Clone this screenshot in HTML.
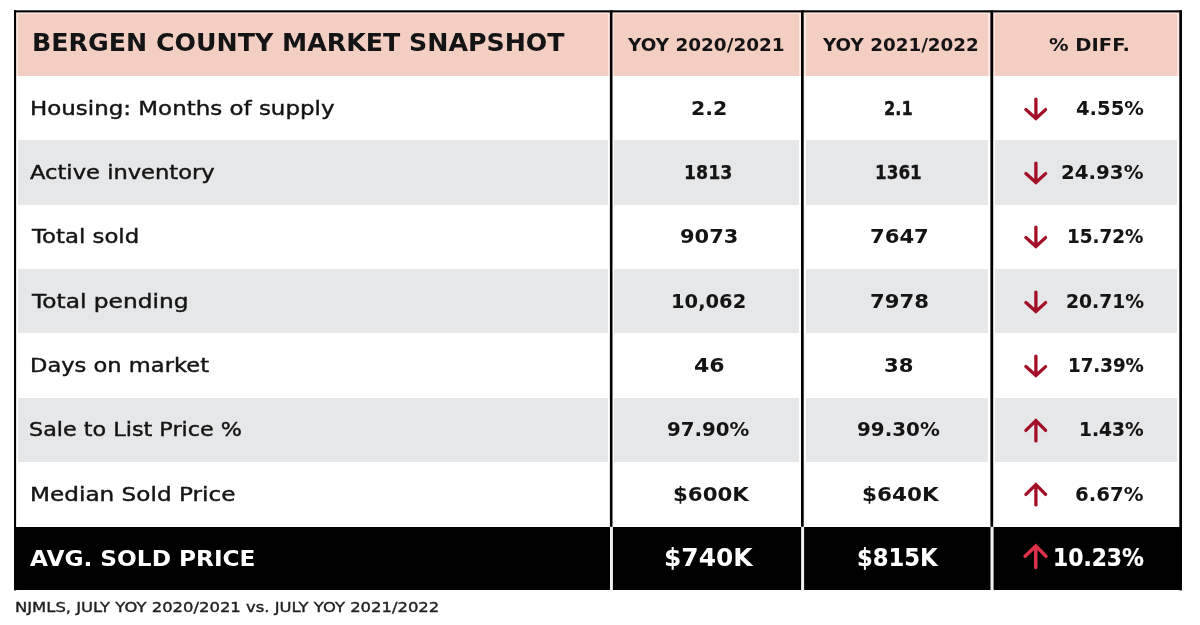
<!DOCTYPE html>
<html lang="en">
<head>
<meta charset="utf-8">
<title>Bergen County Market Snapshot</title>
<style>
html,body{margin:0;padding:0;background:#fff}
body{width:1200px;height:625px;position:relative;overflow:hidden;font-family:'DejaVu Sans','Liberation Sans',sans-serif;color:#141414}
.sheet{position:absolute;left:0;top:0;width:1200px;height:625px}
.row,.cell,.t,.ln,.arw{position:absolute}
.row{left:0;width:1200px}
.cell{top:0;height:100%}
.t{white-space:nowrap;transform-origin:0 50%;font-weight:700;letter-spacing:0;filter:blur(.55px)}
.lbl{font-weight:400;-webkit-text-stroke:.42px currentColor}
.fn{font-weight:400;-webkit-text-stroke:.4px currentColor}
.arw{filter:blur(.55px)}
.hbg{position:absolute;background:#fce6df}
.hdr .cell{background:#f3cec3}
.alt .cell{background:#e6e7e9}
.total{background:#000}
.total .t{color:#fff}
.fn{color:#222}
.grid{position:absolute;left:0;top:0;filter:blur(.45px)}
</style>
</head>
<body>
<div class="sheet">
<div class="hbg" style="left:15.00px;top:11.30px;width:1166.00px;height:64.70px"></div>
<div class="row hdr" style="top:14.20px;height:61.80px">
 <div class="cell c1" style="left:18.00px;width:590.00px">
  <span class="t title" style="left:14.35px;top:14.52px;font-size:24.11px;line-height:29px;transform:scaleX(1.0483)">BERGEN COUNTY MARKET SNAPSHOT</span>
 </div>
 <div class="cell c2" style="left:614.30px;width:184.70px">
  <span class="t ch" style="left:14.13px;top:19.77px;font-size:18.22px;line-height:22px;transform:scaleX(1.0117)">YOY 2020/2021</span>
 </div>
 <div class="cell c3" style="left:805.60px;width:182.40px">
  <span class="t ch" style="left:17.04px;top:19.77px;font-size:18.22px;line-height:22px;transform:scaleX(1.0062)">YOY 2021/2022</span>
 </div>
 <div class="cell c4" style="left:995.20px;width:182.00px">
  <span class="t ch" style="left:53.85px;top:19.77px;font-size:18.22px;line-height:22px;transform:scaleX(1.0722)">% DIFF.</span>
 </div>
</div>
<div class="row r1" style="top:76.00px;height:64.36px">
 <div class="cell c1" style="left:18.00px;width:590.00px">
  <span class="t lbl" style="left:12.25px;top:20.58px;font-size:19.86px;line-height:24px;transform:scaleX(1.1555)">Housing: Months of supply</span>
 </div>
 <div class="cell c2" style="left:614.30px;width:184.70px">
  <span class="t num" style="left:77.03px;top:20.58px;font-size:19.86px;line-height:24px;transform:scaleX(1.0319)">2.2</span>
 </div>
 <div class="cell c3" style="left:805.60px;width:182.40px">
  <span class="t num" style="left:78.50px;top:20.58px;font-size:19.86px;line-height:24px;transform:scaleX(0.8147);-webkit-text-stroke:0.37px currentColor">2.1</span>
 </div>
 <div class="cell c4" style="left:995.20px;width:182.00px">
  <span class="t num" style="left:81.24px;top:20.58px;font-size:19.86px;line-height:24px;transform:scaleX(0.9856)">4.55%</span>
  <svg class="arw" width="28.00" height="30.00" viewBox="0 0 28 30" style="left:26.50px;top:17.73px"><path d="M13.9 5.05V23.5M3.9 15.6L13.9 24.5L23.6 15.6" fill="none" stroke="#a20e25" stroke-width="3.3" stroke-linecap="round" stroke-linejoin="miter"/></svg>
 </div>
</div>
<div class="row r2 alt" style="top:140.36px;height:64.36px">
 <div class="cell c1" style="left:18.00px;width:590.00px">
  <span class="t lbl" style="left:11.65px;top:20.58px;font-size:19.86px;line-height:24px;transform:scaleX(1.1385)">Active inventory</span>
 </div>
 <div class="cell c2" style="left:614.30px;width:184.70px">
  <span class="t num" style="left:69.87px;top:20.58px;font-size:19.86px;line-height:24px;transform:scaleX(0.8734);-webkit-text-stroke:0.25px currentColor">1813</span>
 </div>
 <div class="cell c3" style="left:805.60px;width:182.40px">
  <span class="t num" style="left:69.53px;top:20.58px;font-size:19.86px;line-height:24px;transform:scaleX(0.8462);-webkit-text-stroke:0.31px currentColor">1361</span>
 </div>
 <div class="cell c4" style="left:995.20px;width:182.00px">
  <span class="t num" style="left:65.43px;top:20.58px;font-size:19.86px;line-height:24px;transform:scaleX(0.9970)">24.93%</span>
  <svg class="arw" width="28.00" height="30.00" viewBox="0 0 28 30" style="left:26.50px;top:17.73px"><path d="M13.9 5.05V23.5M3.9 15.6L13.9 24.5L23.6 15.6" fill="none" stroke="#a20e25" stroke-width="3.3" stroke-linecap="round" stroke-linejoin="miter"/></svg>
 </div>
</div>
<div class="row r3" style="top:204.72px;height:64.36px">
 <div class="cell c1" style="left:18.00px;width:590.00px">
  <span class="t lbl" style="left:13.98px;top:20.58px;font-size:19.86px;line-height:24px;transform:scaleX(1.1487)">Total sold</span>
 </div>
 <div class="cell c2" style="left:614.30px;width:184.70px">
  <span class="t num" style="left:65.35px;top:20.58px;font-size:19.86px;line-height:24px;transform:scaleX(1.0548)">9073</span>
 </div>
 <div class="cell c3" style="left:805.60px;width:182.40px">
  <span class="t num" style="left:63.94px;top:20.58px;font-size:19.86px;line-height:24px;transform:scaleX(1.0637)">7647</span>
 </div>
 <div class="cell c4" style="left:995.20px;width:182.00px">
  <span class="t num" style="left:71.85px;top:20.58px;font-size:19.86px;line-height:24px;transform:scaleX(0.9250);-webkit-text-stroke:0.15px currentColor">15.72%</span>
  <svg class="arw" width="28.00" height="30.00" viewBox="0 0 28 30" style="left:26.50px;top:17.73px"><path d="M13.9 5.05V23.5M3.9 15.6L13.9 24.5L23.6 15.6" fill="none" stroke="#a20e25" stroke-width="3.3" stroke-linecap="round" stroke-linejoin="miter"/></svg>
 </div>
</div>
<div class="row r4 alt" style="top:269.08px;height:64.36px">
 <div class="cell c1" style="left:18.00px;width:590.00px">
  <span class="t lbl" style="left:14.00px;top:20.58px;font-size:19.86px;line-height:24px;transform:scaleX(1.1728)">Total pending</span>
 </div>
 <div class="cell c2" style="left:614.30px;width:184.70px">
  <span class="t num" style="left:57.16px;top:20.58px;font-size:19.86px;line-height:24px;transform:scaleX(0.9817)">10,062</span>
 </div>
 <div class="cell c3" style="left:805.60px;width:182.40px">
  <span class="t num" style="left:63.91px;top:20.58px;font-size:19.86px;line-height:24px;transform:scaleX(1.0665)">7978</span>
 </div>
 <div class="cell c4" style="left:995.20px;width:182.00px">
  <span class="t num" style="left:71.12px;top:20.58px;font-size:19.86px;line-height:24px;transform:scaleX(0.9433);-webkit-text-stroke:0.11px currentColor">20.71%</span>
  <svg class="arw" width="28.00" height="30.00" viewBox="0 0 28 30" style="left:26.50px;top:17.73px"><path d="M13.9 5.05V23.5M3.9 15.6L13.9 24.5L23.6 15.6" fill="none" stroke="#a20e25" stroke-width="3.3" stroke-linecap="round" stroke-linejoin="miter"/></svg>
 </div>
</div>
<div class="row r5" style="top:333.44px;height:64.36px">
 <div class="cell c1" style="left:18.00px;width:590.00px">
  <span class="t lbl" style="left:11.72px;top:20.58px;font-size:19.86px;line-height:24px;transform:scaleX(1.1372)">Days on market</span>
 </div>
 <div class="cell c2" style="left:614.30px;width:184.70px">
  <span class="t num" style="left:79.85px;top:20.58px;font-size:19.86px;line-height:24px;transform:scaleX(1.1098)">46</span>
 </div>
 <div class="cell c3" style="left:805.60px;width:182.40px">
  <span class="t num" style="left:77.94px;top:20.58px;font-size:19.86px;line-height:24px;transform:scaleX(1.0653)">38</span>
 </div>
 <div class="cell c4" style="left:995.20px;width:182.00px">
  <span class="t num" style="left:72.71px;top:20.58px;font-size:19.86px;line-height:24px;transform:scaleX(0.9166);-webkit-text-stroke:0.17px currentColor">17.39%</span>
  <svg class="arw" width="28.00" height="30.00" viewBox="0 0 28 30" style="left:26.50px;top:17.73px"><path d="M13.9 5.05V23.5M3.9 15.6L13.9 24.5L23.6 15.6" fill="none" stroke="#a20e25" stroke-width="3.3" stroke-linecap="round" stroke-linejoin="miter"/></svg>
 </div>
</div>
<div class="row r6 alt" style="top:397.80px;height:64.36px">
 <div class="cell c1" style="left:18.00px;width:590.00px">
  <span class="t lbl" style="left:10.94px;top:20.58px;font-size:19.86px;line-height:24px;transform:scaleX(1.1226)">Sale to List Price %</span>
 </div>
 <div class="cell c2" style="left:614.30px;width:184.70px">
  <span class="t num" style="left:52.55px;top:20.58px;font-size:19.86px;line-height:24px;transform:scaleX(0.9963)">97.90%</span>
 </div>
 <div class="cell c3" style="left:805.60px;width:182.40px">
  <span class="t num" style="left:51.43px;top:20.58px;font-size:19.86px;line-height:24px;transform:scaleX(1.0014)">99.30%</span>
 </div>
 <div class="cell c4" style="left:995.20px;width:182.00px">
  <span class="t num" style="left:83.77px;top:20.58px;font-size:19.86px;line-height:24px;transform:scaleX(0.9372);-webkit-text-stroke:0.13px currentColor">1.43%</span>
  <svg class="arw" width="28.00" height="30.00" viewBox="0 0 28 30" style="left:26.50px;top:17.73px"><path d="M13.9 24.95V6M3.9 14.4L13.9 4.6L23.6 14.4" fill="none" stroke="#a20e25" stroke-width="3.3" stroke-linecap="round" stroke-linejoin="miter"/></svg>
 </div>
</div>
<div class="row r7" style="top:462.16px;height:64.36px">
 <div class="cell c1" style="left:18.00px;width:590.00px">
  <span class="t lbl" style="left:11.61px;top:20.58px;font-size:19.86px;line-height:24px;transform:scaleX(1.1664)">Median Sold Price</span>
 </div>
 <div class="cell c2" style="left:614.30px;width:184.70px">
  <span class="t num" style="left:58.77px;top:20.58px;font-size:19.86px;line-height:24px;transform:scaleX(1.0739)">$600K</span>
 </div>
 <div class="cell c3" style="left:805.60px;width:182.40px">
  <span class="t num" style="left:56.61px;top:20.58px;font-size:19.86px;line-height:24px;transform:scaleX(1.0852)">$640K</span>
 </div>
 <div class="cell c4" style="left:995.20px;width:182.00px">
  <span class="t num" style="left:79.83px;top:20.58px;font-size:19.86px;line-height:24px;transform:scaleX(0.9931)">6.67%</span>
  <svg class="arw" width="28.00" height="30.00" viewBox="0 0 28 30" style="left:26.50px;top:17.73px"><path d="M13.9 24.95V6M3.9 14.4L13.9 4.6L23.6 14.4" fill="none" stroke="#a20e25" stroke-width="3.3" stroke-linecap="round" stroke-linejoin="miter"/></svg>
 </div>
</div>
<div class="row total" style="top:526.60px;height:63.80px;left:14.00px;width:1167.40px">
 <div class="cell c1" style="left:4.00px;width:590.00px">
  <span class="t tl" style="left:12.46px;top:19.90px;font-size:21.58px;line-height:26px;transform:scaleX(1.0766)">AVG. SOLD PRICE</span>
 </div>
 <div class="cell c2" style="left:600.30px;width:184.70px">
  <span class="t tv" style="left:49.92px;top:17.52px;font-size:24.11px;line-height:29px;transform:scaleX(1.0327)">$740K</span>
 </div>
 <div class="cell c3" style="left:791.60px;width:182.40px">
  <span class="t tv" style="left:51.25px;top:17.52px;font-size:24.11px;line-height:29px;transform:scaleX(0.9395);-webkit-text-stroke:0.12px currentColor">$815K</span>
 </div>
 <div class="cell c4" style="left:981.20px;width:182.00px">
  <span class="t tv" style="left:57.34px;top:16.38px;font-size:24.52px;line-height:29px;transform:scaleX(0.8905);-webkit-text-stroke:0.22px currentColor">10.23%</span>
  <svg class="arw" width="29.68" height="31.80" viewBox="0 0 28 30" style="left:25.66px;top:14.50px"><path d="M13.9 24.95V6M3.9 14.4L13.9 4.6L23.6 14.4" fill="none" stroke="#dc304b" stroke-width="3.3" stroke-linecap="round" stroke-linejoin="miter"/></svg>
 </div>
</div>
<svg class="grid" width="1200" height="625" viewBox="0 0 1200 625" aria-hidden="true"><rect x="14.00" y="10.30" width="1168.00" height="2.10" fill="#000"/><rect x="14.00" y="10.30" width="2.10" height="580.10" fill="#000"/><rect x="1179.30" y="10.30" width="2.70" height="580.10" fill="#000"/><rect x="609.90" y="10.30" width="2.60" height="516.50" fill="#000"/><rect x="610.00" y="527.00" width="2.90" height="63.80" fill="#f1f1f1"/><rect x="801.00" y="10.30" width="2.70" height="516.50" fill="#000"/><rect x="801.10" y="527.00" width="3.00" height="63.80" fill="#f1f1f1"/><rect x="990.40" y="10.30" width="2.80" height="516.50" fill="#000"/><rect x="990.50" y="527.00" width="3.10" height="63.80" fill="#f1f1f1"/></svg>
<span class="t fn" style="left:15.43px;top:598.12px;font-size:14.91px;line-height:18px;transform:scaleX(1.1010);">NJMLS, JULY YOY 2020/2021 vs. JULY YOY 2021/2022</span>
</div>
</body>
</html>
